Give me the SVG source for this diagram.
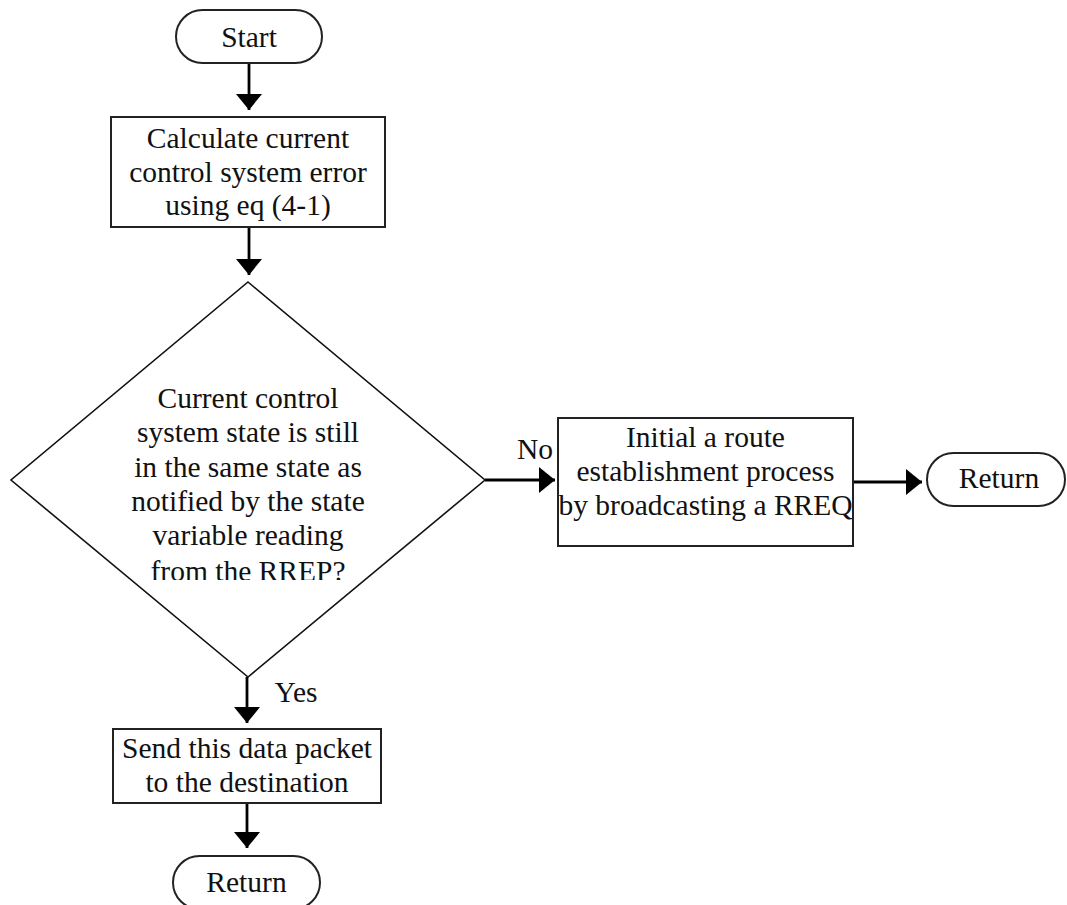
<svg xmlns="http://www.w3.org/2000/svg" width="1067" height="905" viewBox="0 0 1067 905">
  <style>
    .lbl { font-family: "Liberation Serif", "Times New Roman", serif; font-size: 29.5px; fill: #111; text-anchor: middle; }
    .box { fill: #fff; stroke: #222; stroke-width: 2; }
    .dia { fill: #fff; stroke: #111; stroke-width: 1.6; }
    .wire { fill: none; stroke: #000; stroke-width: 2.8; marker-end: url(#head); }
  </style>
  <defs>
    <marker id="head" viewBox="0 0 16 26" refX="16" refY="13" markerWidth="16" markerHeight="26" markerUnits="userSpaceOnUse" orient="auto">
      <path d="M0,0 L16,13 L0,26 Z" fill="#000"/>
    </marker>
    <!-- the last line of the decision text is cut off at its base -->
    <clipPath id="decision-clip">
      <rect x="0" y="270" width="500" height="310"/>
    </clipPath>
  </defs>
  <rect width="1067" height="905" fill="#fff"/>

  <!-- connectors -->
  <g id="connectors">
    <line class="wire" x1="249" y1="63" x2="249" y2="110"/>
    <line class="wire" x1="249" y1="227" x2="249" y2="275"/>
    <line class="wire" x1="485" y1="480" x2="555" y2="480"/>
    <line class="wire" x1="853" y1="482" x2="922" y2="482"/>
    <line class="wire" x1="247" y1="677" x2="247" y2="723"/>
    <line class="wire" x1="247" y1="803" x2="247" y2="848"/>
    <text class="lbl" x="535" y="459">No</text>
    <text class="lbl" x="296" y="702">Yes</text>
  </g>

  <!-- start terminator -->
  <g id="start">
    <rect class="box" x="176" y="10" width="146" height="53" rx="26.5"/>
    <text class="lbl" x="249" y="47">Start</text>
  </g>

  <!-- error calculation step -->
  <g id="calc-error">
    <rect class="box" x="111" y="117" width="274" height="110"/>
    <text class="lbl" x="248" y="148">Calculate current</text>
    <text class="lbl" x="248" y="182">control system error</text>
    <text class="lbl" x="248" y="215">using eq (4-1)</text>
  </g>

  <!-- state check decision -->
  <g id="state-check">
    <polygon class="dia" points="248,282 485,480 248,677 11,480"/>
    <g clip-path="url(#decision-clip)">
      <text class="lbl" x="248" y="408">Current control</text>
      <text class="lbl" x="248" y="442">system state is still</text>
      <text class="lbl" x="248" y="477">in the same state as</text>
      <text class="lbl" x="248" y="511">notified by the state</text>
      <text class="lbl" x="248" y="545">variable reading</text>
      <text class="lbl" x="248" y="581">from the RREP?</text>
    </g>
  </g>

  <!-- route discovery step -->
  <g id="route-discovery">
    <rect class="box" x="558" y="418" width="295" height="128"/>
    <text class="lbl" x="705.5" y="447">Initial a route</text>
    <text class="lbl" x="705.5" y="481">establishment process</text>
    <text class="lbl" x="705.5" y="515">by broadcasting a RREQ</text>
  </g>

  <!-- return after route discovery -->
  <g id="return-right">
    <rect class="box" x="927" y="453" width="138" height="53" rx="26.5"/>
    <text class="lbl" x="999" y="488">Return</text>
  </g>

  <!-- send packet step -->
  <g id="send-packet">
    <rect class="box" x="113" y="729" width="268" height="74"/>
    <text class="lbl" x="247" y="758">Send this data packet</text>
    <text class="lbl" x="247" y="792">to the destination</text>
  </g>

  <!-- return after sending -->
  <g id="return-bottom">
    <rect class="box" x="173" y="856" width="147" height="53" rx="26.5"/>
    <text class="lbl" x="246.5" y="892">Return</text>
  </g>
</svg>
